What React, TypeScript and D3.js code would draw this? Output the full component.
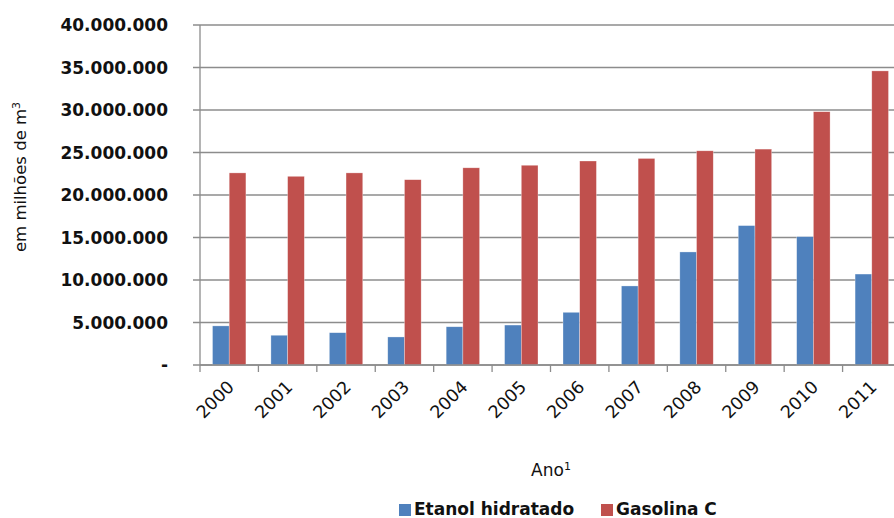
import * as d3 from 'd3';

const YEARS = ['2000', '2001', '2002', '2003', '2004', '2005', '2006', '2007', '2008', '2009', '2010', '2011'];
const ETANOL = [4.6, 3.5, 3.8, 3.3, 4.5, 4.7, 6.2, 9.3, 13.3, 16.4, 15.1, 10.7].map(v => v * 1e6);
const GASOLINA = [22.6, 22.2, 22.6, 21.8, 23.2, 23.5, 24.0, 24.3, 25.2, 25.4, 29.8, 34.6].map(v => v * 1e6);
const Y_TICKS = [0, 5e6, 10e6, 15e6, 20e6, 25e6, 30e6, 35e6, 40e6];
const SERIES = [
  { name: 'Etanol hidratado', values: ETANOL, color: '#4F81BD' },
  { name: 'Gasolina C', values: GASOLINA, color: '#C0504D' },
];

const W = 894;
const H = 518;
const FONT = '"DejaVu Sans", Verdana, sans-serif';

const fmt = (v: number) => (v === 0 ? '-' : d3.format(',')(v).replace(/,/g, '.'));

export default function App() {
  const left = 200;
  const right = 901;
  const top = 25;
  const bottom = 365;

  const x = d3.scaleBand<string>().domain(YEARS).range([left, right]).paddingInner(0).paddingOuter(0);
  const y = d3.scaleLinear().domain([0, 40e6]).range([bottom, top]);
  const bw = x.bandwidth();
  const barW = bw * 0.286;

  return (
    <svg width={W} height={H} style={{ position: 'absolute', left: 0, top: 0, background: '#fff' }}>
      {/* grid lines */}
      {Y_TICKS.map(t => (
        <g key={t}>
          <line x1={left - 7} x2={W} y1={y(t)} y2={y(t)} stroke="#8c8c8c" strokeWidth={1.3} />
          <text
            x={168} y={y(t)} textAnchor="end" dominantBaseline="central"
            fontSize={17} fontWeight="bold" fontFamily={FONT} fill="#111"
          >
            {fmt(t)}
          </text>
        </g>
      ))}

      {/* bars */}
      {YEARS.map((yr, i) => {
        const cx = (x(yr) ?? 0) + bw / 2;
        return SERIES.map((s, j) => (
          <rect
            key={`${yr}-${j}`}
            x={cx - barW + j * barW}
            y={y(s.values[i])}
            width={barW}
            height={bottom - y(s.values[i])}
            fill={s.color}
            stroke="#ffffff" strokeOpacity={0.5} strokeWidth={0.6}
          />
        ));
      })}

      {/* axes */}
      <line x1={left} x2={left} y1={top} y2={bottom} stroke="#8c8c8c" strokeWidth={1.3} />
      <line x1={left} x2={W} y1={bottom} y2={bottom} stroke="#8c8c8c" strokeWidth={1.3} />
      {YEARS.map(yr => (
        <line key={`t-${yr}`} x1={x(yr) ?? 0} x2={x(yr) ?? 0} y1={bottom} y2={bottom + 7} stroke="#8c8c8c" strokeWidth={1.3} />
      ))}

      {/* x labels */}
      {YEARS.map(yr => {
        const cx = (x(yr) ?? 0) + bw / 2;
        return (
          <text
            key={`l-${yr}`}
            transform={`translate(${cx + 6},${bottom + 23}) rotate(-45)`}
            textAnchor="end" fontSize={17.5} fontFamily={FONT} fill="#111"
          >
            {yr}
          </text>
        );
      })}

      {/* y title */}
      <text
        transform={`translate(26,177) rotate(-90)`}
        textAnchor="middle" fontSize={16.5} fontFamily={FONT} fill="#111"
      >
        em milhões de m<tspan dy={-6} fontSize={11}>3</tspan>
      </text>

      {/* x title */}
      <text x={551} y={476} textAnchor="middle" fontSize={17} fontFamily={FONT} fill="#111">
        Ano<tspan dy={-6} fontSize={11}>1</tspan>
      </text>

      {/* legend */}
      {SERIES.map((s, j) => {
        const lx = j === 0 ? 399 : 601;
        return (
          <g key={s.name}>
            <rect x={lx} y={504} width={12} height={12} fill={s.color} />
            <text x={lx + 15} y={515} fontSize={17} fontWeight="bold" fontFamily={FONT} fill="#111">
              {s.name}
            </text>
          </g>
        );
      })}
    </svg>
  );
}
